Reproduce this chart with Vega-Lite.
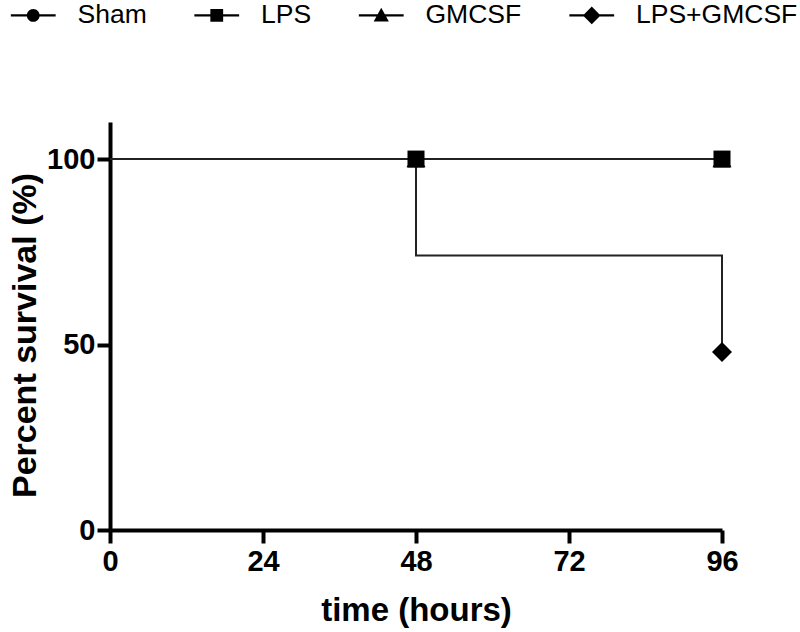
{
  "$schema": "https://vega.github.io/schema/vega-lite/v6.json",
  "width": 612,
  "height": 408,
  "autosize": {"type": "none"},
  "padding": {"left": 110, "top": 122, "right": 78, "bottom": 102},
  "background": "white",
  "config": {
    "view": {"stroke": null},
    "font": "Liberation Sans",
    "axis": {
      "domainColor": "black",
      "domainWidth": 4,
      "tickColor": "black",
      "tickWidth": 4,
      "tickSize": 13,
      "labelFont": "Liberation Sans",
      "labelFontSize": 29,
      "labelFontWeight": "bold",
      "labelColor": "black",
      "titleFont": "Liberation Sans",
      "titleFontWeight": "bold",
      "titleColor": "black",
      "grid": false
    }
  },
  "datasets": {
    "curves": [
      {"group": "Sham", "time": 0, "survival": 100},
      {"group": "Sham", "time": 96, "survival": 100},
      {"group": "LPS", "time": 0, "survival": 100},
      {"group": "LPS", "time": 96, "survival": 100},
      {"group": "GMCSF", "time": 0, "survival": 100},
      {"group": "GMCSF", "time": 96, "survival": 100},
      {"group": "LPS+GMCSF", "time": 0, "survival": 100},
      {"group": "LPS+GMCSF", "time": 48, "survival": 74},
      {"group": "LPS+GMCSF", "time": 96, "survival": 48}
    ],
    "markers": [
      {"group": "Sham", "time": 48, "survival": 100},
      {"group": "Sham", "time": 96, "survival": 100},
      {"group": "GMCSF", "time": 48, "survival": 100},
      {"group": "GMCSF", "time": 96, "survival": 100},
      {"group": "LPS", "time": 48, "survival": 100},
      {"group": "LPS", "time": 96, "survival": 100},
      {"group": "LPS+GMCSF", "time": 96, "survival": 48}
    ]
  },
  "layer": [
    {
      "data": {"name": "curves"},
      "mark": {"type": "line", "interpolate": "step-after", "color": "#222222", "strokeWidth": 2},
      "encoding": {
        "x": {
          "field": "time", "type": "quantitative", "title": "time (hours)",
          "scale": {"domain": [0, 96], "nice": false},
          "axis": {"values": [0, 24, 48, 72, 96], "labelPadding": 4, "labelFlush": false,
                   "titleFontSize": 33, "titleX": 306, "titleY": 90, "titleBaseline": "alphabetic"}
        },
        "y": {
          "field": "survival", "type": "quantitative", "title": "Percent survival (%)",
          "scale": {"domain": [0, 110], "nice": false},
          "axis": {"values": [0, 50, 100], "labelPadding": 2,
                   "titleFontSize": 34, "titleX": -75, "titleY": 213, "titleAngle": 270, "titleBaseline": "alphabetic"}
        },
        "detail": {"field": "group", "type": "nominal"}
      }
    },
    {
      "data": {"name": "markers"},
      "transform": [{"filter": "datum.group === 'Sham'"}],
      "mark": {"type": "point", "filled": true, "opacity": 1, "color": "black", "shape": "circle", "size": 200},
      "encoding": {
        "x": {"field": "time", "type": "quantitative", "title": "time (hours)"},
        "y": {"field": "survival", "type": "quantitative", "title": "Percent survival (%)"}
      }
    },
    {
      "data": {"name": "markers"},
      "transform": [{"filter": "datum.group === 'GMCSF'"}],
      "mark": {"type": "point", "filled": true, "opacity": 1, "color": "black", "shape": "triangle-up", "size": 361},
      "encoding": {
        "x": {"field": "time", "type": "quantitative", "title": "time (hours)"},
        "y": {"field": "survival", "type": "quantitative", "title": "Percent survival (%)"}
      }
    },
    {
      "data": {"name": "markers"},
      "transform": [{"filter": "datum.group === 'LPS'"}],
      "mark": {"type": "point", "filled": true, "opacity": 1, "color": "black", "shape": "square", "size": 290},
      "encoding": {
        "x": {"field": "time", "type": "quantitative", "title": "time (hours)"},
        "y": {"field": "survival", "type": "quantitative", "title": "Percent survival (%)"}
      }
    },
    {
      "data": {"name": "markers"},
      "transform": [{"filter": "datum.group === 'LPS+GMCSF'"}],
      "mark": {"type": "point", "filled": true, "opacity": 1, "color": "black", "shape": "diamond", "size": 400},
      "encoding": {
        "x": {"field": "time", "type": "quantitative", "title": "time (hours)"},
        "y": {"field": "survival", "type": "quantitative", "title": "Percent survival (%)"}
      }
    },
    {
      "data": {"name": "markers"},
      "mark": {"type": "point", "filled": true, "opacity": 0, "color": "black"},
      "encoding": {
        "x": {"field": "time", "type": "quantitative", "title": "time (hours)"},
        "y": {"field": "survival", "type": "quantitative", "title": "Percent survival (%)"},
        "shape": {
          "field": "group", "type": "nominal",
          "scale": {
            "domain": ["Sham", "LPS", "GMCSF", "LPS+GMCSF"],
            "range": [
              "M-2.8,-0.13H2.8V0.13H-2.8ZM0.8,0A0.8,0.8,0,1,1,-0.8,0A0.8,0.8,0,1,1,0.8,0Z",
              "M-2.8,-0.13H2.8V0.13H-2.8ZM-0.8,-0.8H0.8V0.8H-0.8Z",
              "M-2.8,-0.13H2.8V0.13H-2.8ZM0,-0.95L0.95,0.75H-0.95Z",
              "M-2.8,-0.13H2.8V0.13H-2.8ZM0,-1.1L1.1,0L0,1.1L-1.1,0Z"
            ]
          },
          "legend": {
            "orient": "none", "legendX": -113, "legendY": -120, "direction": "horizontal",
            "title": null, "symbolSize": 256, "symbolOpacity": 1, "labelFont": "Liberation Sans", "labelFontSize": 26.5,
            "labelLimit": 300, "labelColor": "black", "symbolOffset": 23, "labelOffset": 31, "columnPadding": 33.5, "padding": 0,
            "symbolFillColor": "black", "symbolStrokeColor": "transparent", "symbolStrokeWidth": 0,
            "encode": {
              "symbols": {
                "update": {
                  "fill": {"value": "black"},
                  "opacity": {"value": 1},
                  "fillOpacity": {"value": 1}
                }
              }
            }
          }
        }
      }
    }
  ]
}
